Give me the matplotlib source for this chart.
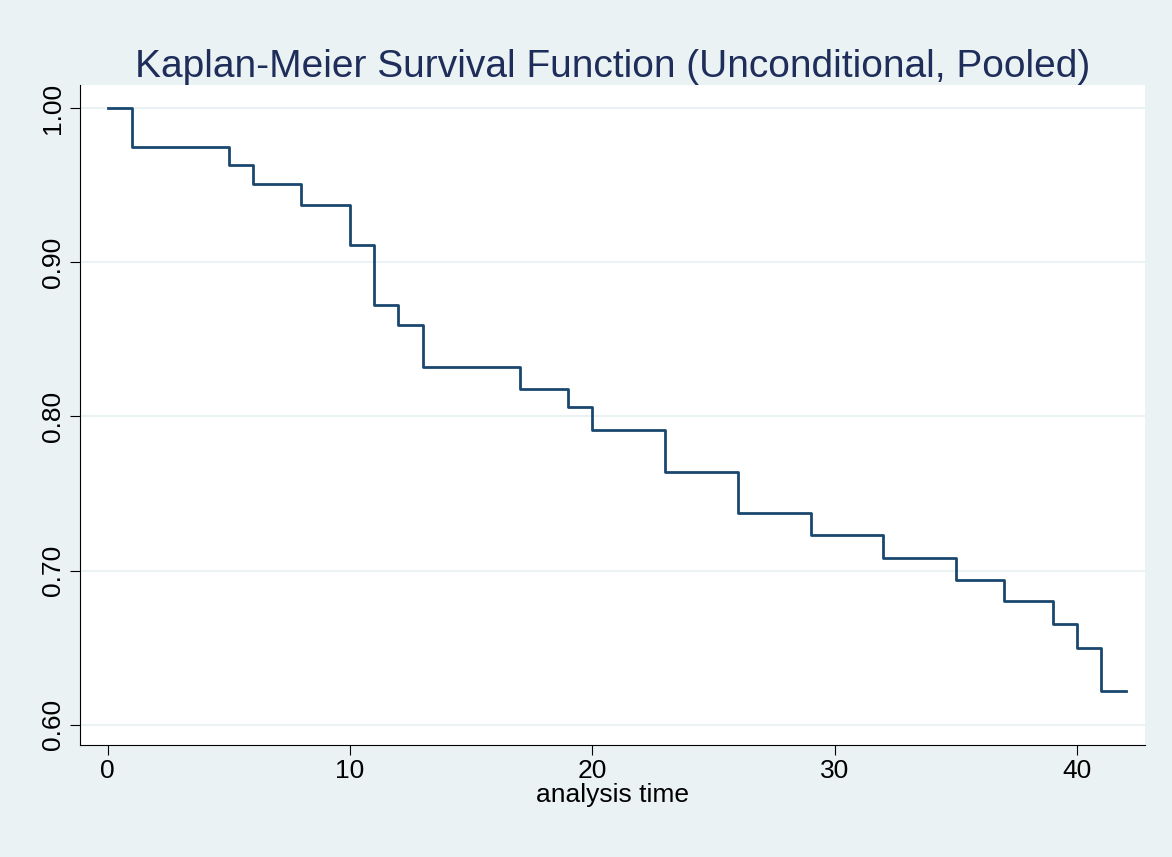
import numpy as np
import matplotlib.pyplot as plt

plt.rcParams['font.family'] = ['Liberation Sans', 'DejaVu Sans']

# event times and survival estimates
times = [0, 1, 5, 6, 8, 10, 11, 12, 13, 17, 19, 20, 23, 26, 29, 32, 35, 37, 39, 40, 41, 42]
surv = [1.000, 0.975, 0.963, 0.951, 0.937, 0.911, 0.872, 0.859, 0.832, 0.818, 0.806,
        0.791, 0.764, 0.737, 0.723, 0.708, 0.694, 0.680, 0.665, 0.650, 0.622, 0.622]
yticks = [0.60, 0.70, 0.80, 0.90, 1.00]
xticks = [0, 10, 20, 30, 40]

fig = plt.figure(figsize=(11.72, 8.57), dpi=100)
fig.patch.set_facecolor('#EAF2F3')
ax = fig.add_axes([0.068, 0.131, 0.909, 0.770])
ax.set_facecolor('white')

ax.step(times, surv, where='post', color='#1a476f', lw=2)

ax.set_xlim(-1.15, 42.8)
ax.set_ylim(0.587, 1.015)
ax.set_yticks(yticks)
ax.set_yticklabels([f'{v:.2f}' for v in yticks], rotation=90, va='center')
ax.set_xticks(xticks)
ax.tick_params(labelsize=19, length=7, color='black')
ax.grid(axis='y', color='#EAF2F3', lw=1.5)
ax.set_axisbelow(True)
for s in ['top', 'right']:
    ax.spines[s].set_visible(False)

ax.set_xlabel('analysis time', fontsize=19, labelpad=0)
ax.set_title('Kaplan-Meier Survival Function (Unconditional, Pooled)',
             fontsize=28, color='#1e2d5a', pad=6)

fig.savefig('out.png', dpi=100, facecolor=fig.get_facecolor())
